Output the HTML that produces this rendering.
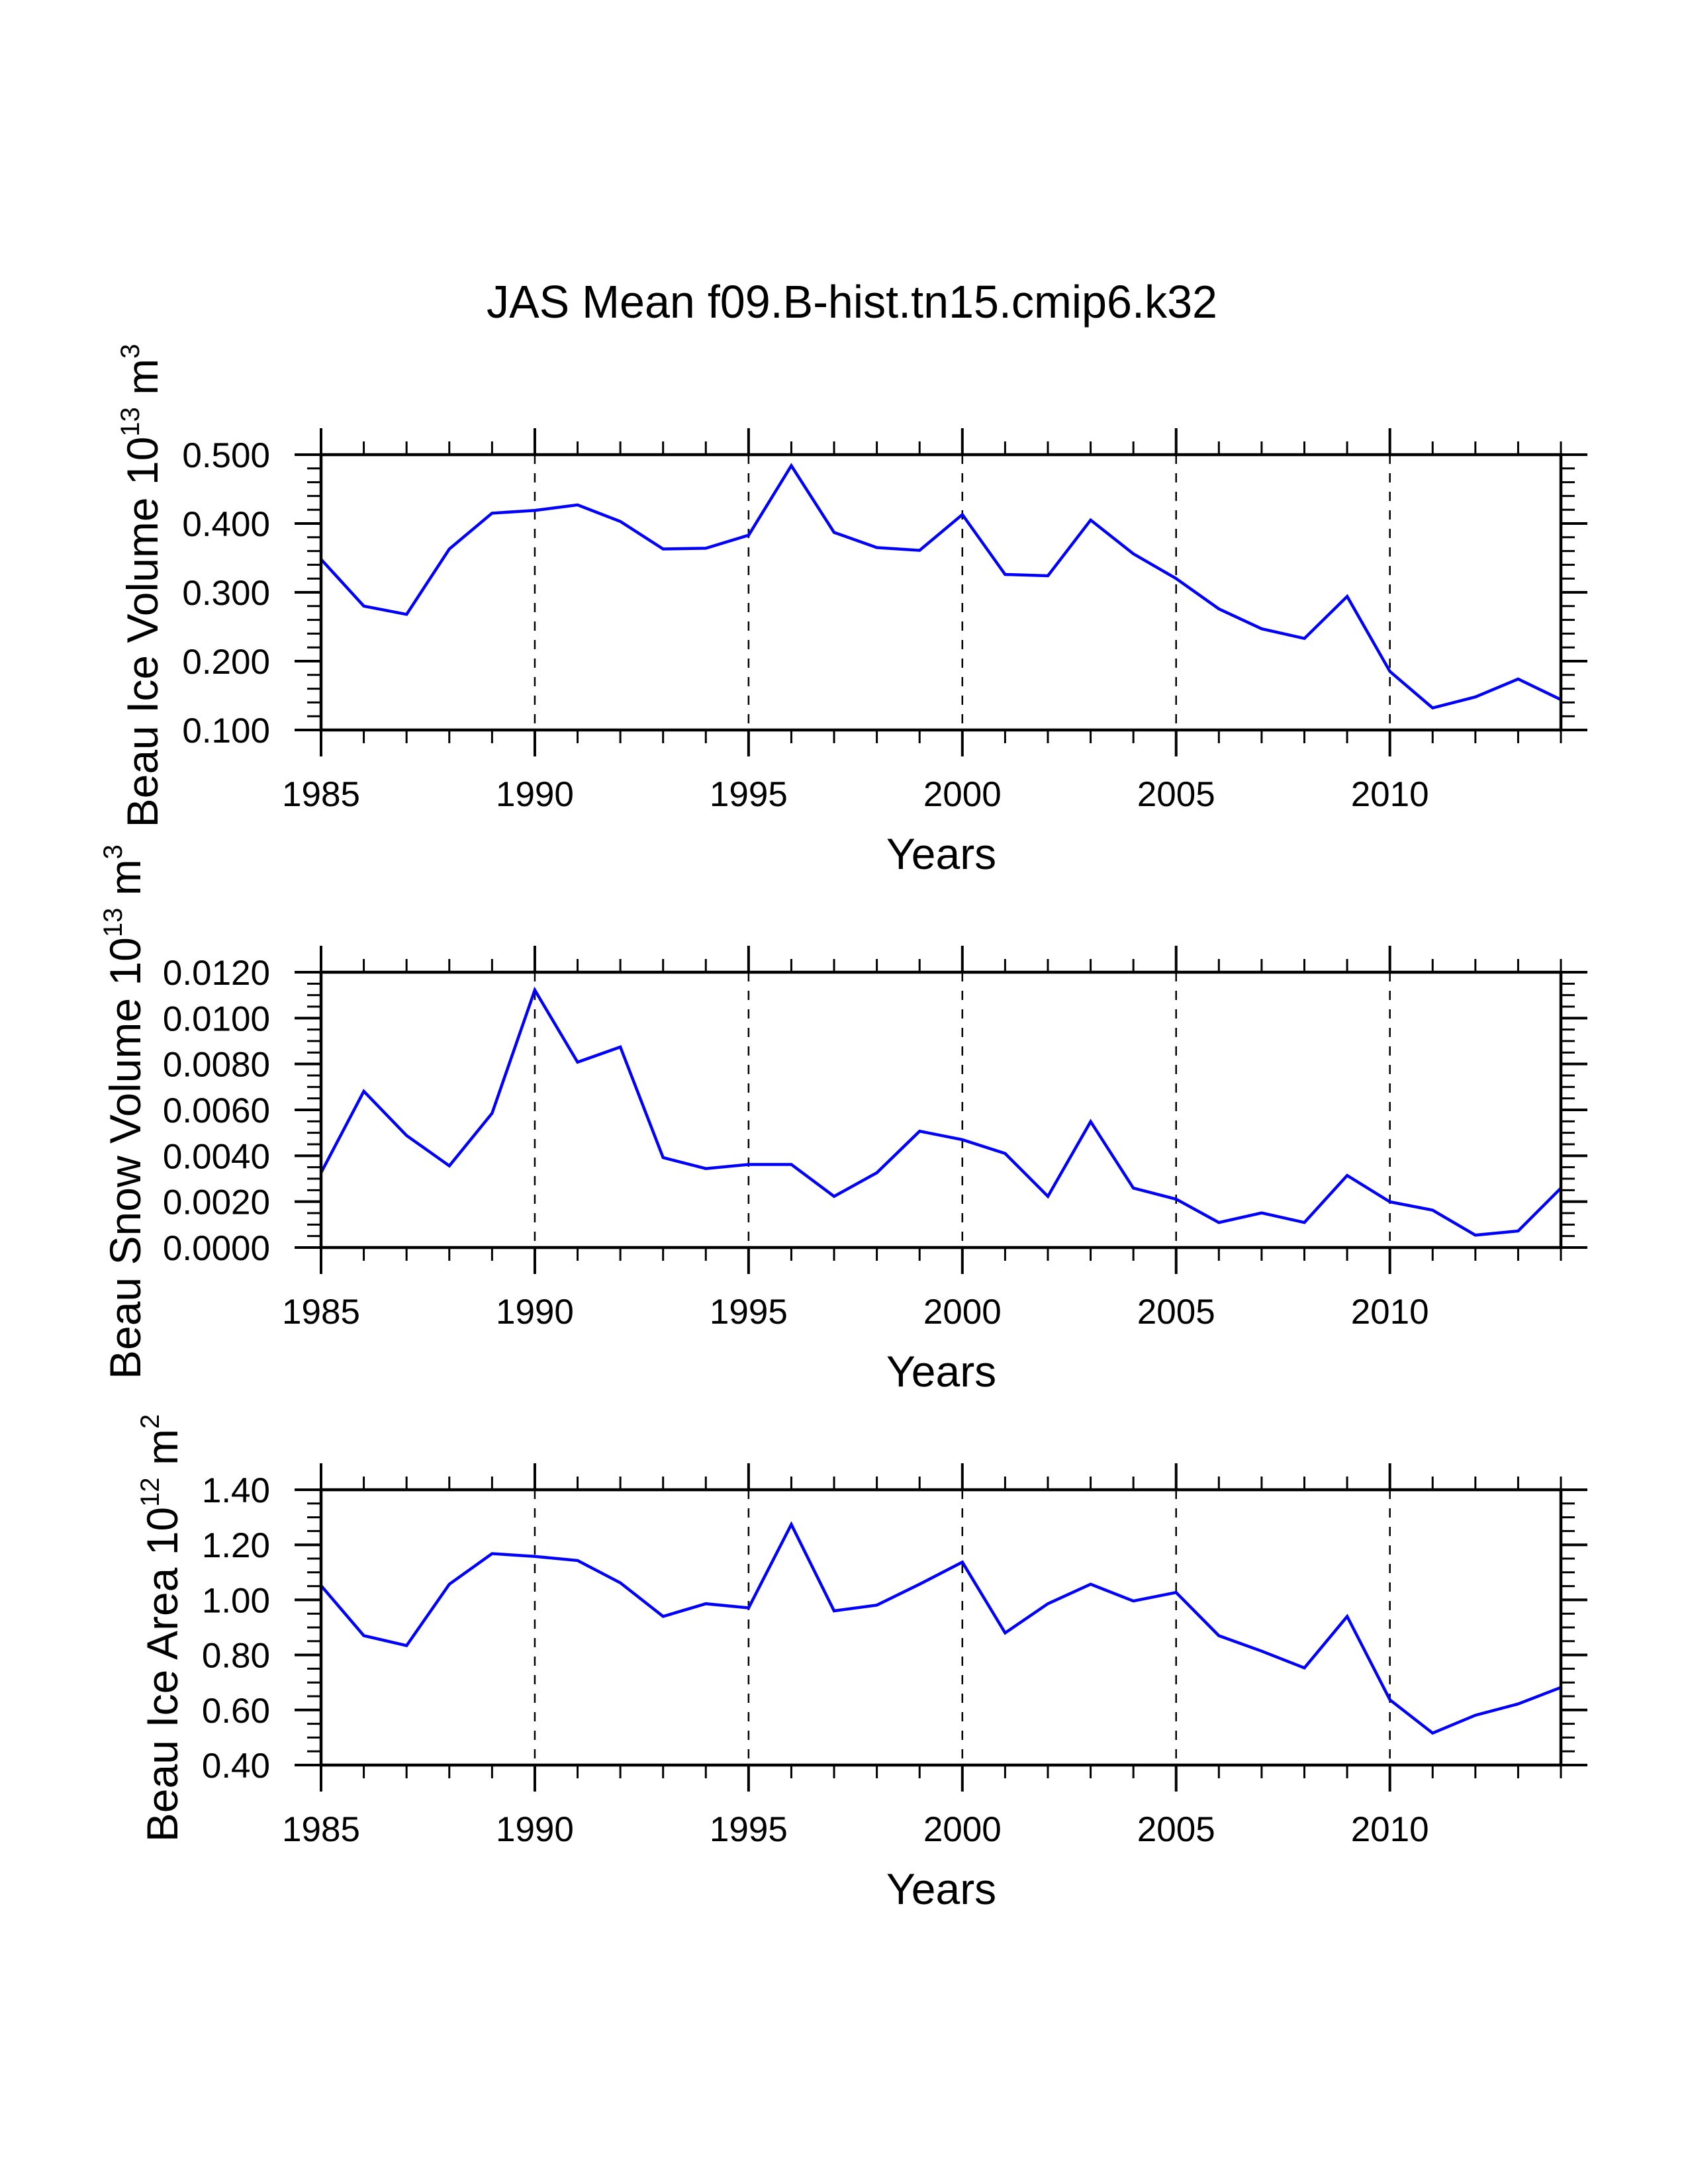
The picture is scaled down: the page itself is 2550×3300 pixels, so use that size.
<!DOCTYPE html>
<html><head><meta charset="utf-8">
<style>
html,body{margin:0;padding:0;background:#fff;}
svg{display:block;font-family:"Liberation Sans",Arial,sans-serif;}
</style></head>
<body>
<svg id="chart" width="2550" height="3300" viewBox="0 0 2550 3300" xmlns="http://www.w3.org/2000/svg">
<rect width="2550" height="3300" fill="#fff"/>
<text x="735" y="480" font-size="70" textLength="1104" lengthAdjust="spacingAndGlyphs">JAS Mean f09.B-hist.tn15.cmip6.k32</text>
<g id="plots"></g>
</svg>
<script>
const years = [1985,1986,1987,1988,1989,1990,1991,1992,1993,1994,1995,1996,1997,1998,1999,2000,2001,2002,2003,2004,2005,2006,2007,2008,2009,2010,2011,2012,2013,2014];
const iceVolume = [0.348,0.280,0.268,0.363,0.415,0.419,0.427,0.403,0.363,0.364,0.383,0.484,0.387,0.365,0.361,0.413,0.326,0.324,0.405,0.356,0.320,0.276,0.247,0.233,0.294,0.185,0.132,0.148,0.174,0.144];
const snowVolume = [0.00326,0.00681,0.00488,0.00356,0.00585,0.01122,0.00808,0.00874,0.00392,0.00344,0.00362,0.00362,0.00223,0.00326,0.00507,0.00470,0.00410,0.00223,0.00549,0.00259,0.00211,0.00109,0.00151,0.00109,0.00314,0.00199,0.00163,0.00054,0.00072,0.00259];
const iceArea = [1.052,0.870,0.834,1.057,1.168,1.158,1.143,1.062,0.940,0.986,0.971,1.274,0.960,0.981,1.057,1.137,0.880,0.986,1.057,0.996,1.027,0.870,0.814,0.753,0.940,0.637,0.516,0.581,0.622,0.682];
const xTickLabels = [1985,1990,1995,2000,2005,2010];
const iceVolumeTicks = [0.1,0.2,0.3,0.4,0.5];
const snowVolumeTicks = [0,0.002,0.004,0.006,0.008,0.010,0.012];
const iceAreaTicks = [0.4,0.6,0.8,1.0,1.2,1.4];

const NS = "http://www.w3.org/2000/svg";
const root = document.getElementById('plots');
const X0 = 485, X1 = 2358, H = 416;
function mk(tag, attrs, parent){ const e = document.createElementNS(NS, tag); for (const k in attrs) e.setAttribute(k, attrs[k]); (parent||root).appendChild(e); return e; }
const xScale = y => X0 + (y - 1985) / (2014 - 1985) * (X1 - X0);

const panels = [
  {name:'ice-volume', top:687, data:iceVolume, ticks:iceVolumeTicks, min:0.1, max:0.5, minor:0.02, dec:3, title:'Beau Ice Volume 10', sup1:'13', unit:' m', sup2:'3', tx:238, tc:885},
  {name:'snow-volume', top:1469, data:snowVolume, ticks:snowVolumeTicks, min:0, max:0.012, minor:0.0005, dec:4, title:'Beau Snow Volume 10', sup1:'13', unit:' m', sup2:'3', tx:212, tc:1680},
  {name:'ice-area', top:2251, data:iceArea, ticks:iceAreaTicks, min:0.4, max:1.4, minor:0.05, dec:2, title:'Beau Ice Area 10', sup1:'12', unit:' m', sup2:'2', tx:268, tc:2460}
];

panels.forEach(p => {
  const g = mk('g', {});
  
  
  const top = p.top, bot = p.top + H;
  const yScale = v => bot - (v - p.min) / (p.max - p.min) * H;
  [1990,1995,2000,2005,2010].forEach(yr => {
    const l = mk('line', {x1:xScale(yr), x2:xScale(yr), y1:top, y2:bot, stroke:'#000', 'stroke-width':2.5, 'stroke-dasharray':'14,14'}, g);
    
    
  });
  years.forEach(yr => {
    const x = xScale(yr); const major = (yr % 5 === 0);
    const len = major ? 40 : 20; const w = major ? 4 : 3;
    mk('line', {x1:x, x2:x, y1:top, y2:top-len, stroke:'#000', 'stroke-width':w}, g);
    mk('line', {x1:x, x2:x, y1:bot, y2:bot+len, stroke:'#000', 'stroke-width':w}, g);
  });
  xTickLabels.forEach(yr => {
    const t = mk('text', {x:xScale(yr), y:bot+115, 'font-size':53, 'text-anchor':'middle'}, g);
    
    
    t.textContent = yr;
  });
  const nMinor = Math.round((p.max - p.min) / p.minor);
  for (let i = 0; i <= nMinor; i++) {
    const v = p.min + i * p.minor; const y = yScale(v);
    mk('line', {x1:X0, x2:X0-21, y1:y, y2:y, stroke:'#000', 'stroke-width':3}, g);
    mk('line', {x1:X1, x2:X1+21, y1:y, y2:y, stroke:'#000', 'stroke-width':3}, g);
  }
  p.ticks.forEach(v => {
    const y = yScale(v);
    mk('line', {x1:X0, x2:X0-40, y1:y, y2:y, stroke:'#000', 'stroke-width':4}, g);
    mk('line', {x1:X1, x2:X1+40, y1:y, y2:y, stroke:'#000', 'stroke-width':4}, g);
    const t = mk('text', {x:408, y:y+19, 'font-size':53, 'text-anchor':'end'}, g);
    
    
    t.textContent = v.toFixed(p.dec);
  });
  const pts = p.data.map((v,i) => xScale(years[i]).toFixed(1) + ',' + yScale(v).toFixed(1)).join(' ');
  const line = mk('polyline', {points:pts, fill:'none', stroke:'#0000ff', 'stroke-width':4.5, 'stroke-linejoin':'miter'}, g);
  
  
  const fr = mk('rect', {x:X0, y:top, width:X1-X0, height:H, fill:'none', stroke:'#000', 'stroke-width':4.5}, g);
  
  
  const xt = mk('text', {x:1422, y:bot+210, 'font-size':66, 'text-anchor':'middle'}, g);
  
  
  xt.textContent = 'Years';
  const yt = mk('text', {x:0, y:0, 'font-size':66, 'text-anchor':'middle', transform:'translate(' + p.tx + ',' + p.tc + ') rotate(-90)'}, g);
  
  
  const s1 = mk('tspan', {}, yt); s1.textContent = p.title;
  const s2 = mk('tspan', {dy:-28, 'font-size':40}, yt); s2.textContent = p.sup1;
  const s3 = mk('tspan', {dy:28}, yt); s3.textContent = p.unit;
  const s4 = mk('tspan', {dy:-28, 'font-size':40}, yt); s4.textContent = p.sup2;
});
</script>
</body></html>
